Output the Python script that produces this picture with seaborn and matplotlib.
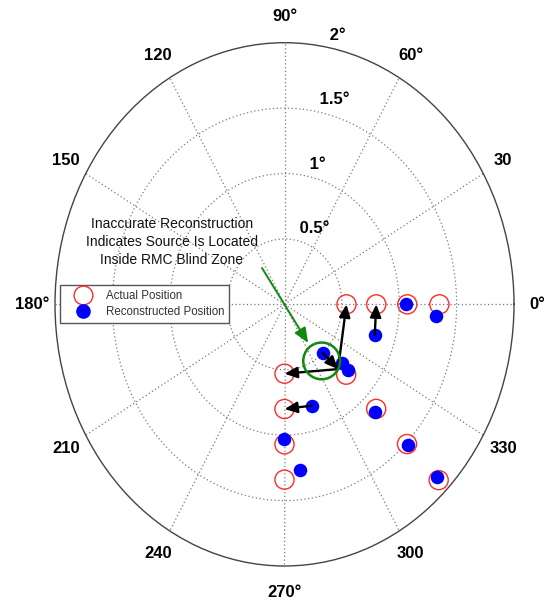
import numpy as np
import pandas as pd
import matplotlib
matplotlib.use("Agg")
import matplotlib.pyplot as plt
from matplotlib.lines import Line2D
import seaborn as sns

# Actual source positions (azimuth in degrees, off-axis angle in degrees)
actual_az = [0, 0, 0, 0, 315, 270, 270, 315, 270, 315, 270, 315]
actual_r = [0.54, 0.80, 1.07, 1.35, 0.76, 0.53, 0.80, 1.13, 1.07, 1.51, 1.34, 1.90]

# Reconstructed source positions
recon_az = [0.0, 356.2, 343.5, 312.0, 317.9, 317.9, 287.1, 313.9, 269.9, 276.1, 315.1, 315.2]
recon_r = [1.06, 1.32, 0.82, 0.50, 0.67, 0.75, 0.81, 1.14, 1.03, 1.27, 1.52, 1.87]

# Correction arrows: (start az, start r) -> (end az, end r)
arrow_from_az = [312.0, 313.3, 313.3, 343.5, 287.1]
arrow_from_r = [0.50, 0.68, 0.68, 0.82, 0.81]
arrow_to_az = [313.3, 0, 270, 0, 270]
arrow_to_r = [0.68, 0.54, 0.53, 0.80, 0.80]

# Blind-zone highlight
blind_az, blind_r = 306.8, 0.54
pointer_from = (125.2, 0.34)
pointer_to = (304.9, 0.36)

ring_values = [0.5, 1.0, 1.5, 2.0]
ring_labels = ["0.5°", "1°", "1.5°", "2°"]
spoke_angles = list(range(0, 360, 30))
spoke_labels = ["0°", "30", "60°", "90°", "120", "150", "180°",
                "210", "240", "270°", "300", "330"]

sns.set_theme(style="white")
plt.rcParams["font.family"] = ["Liberation Sans", "DejaVu Sans"]

fig = plt.figure(figsize=(5.49, 6.02), dpi=100)
ax = fig.add_axes([55 / 549, 36 / 602, 459 / 549, 523.3 / 602], projection="polar")
ax.set_aspect("auto")
ax.set_ylim(0, 2)
ax.set_rticks([0.5, 1.0, 1.5])
ax.set_yticklabels([])
ax.set_thetagrids(spoke_angles, labels=[""] * len(spoke_angles))
ax.grid(True, color="#7a7a7a", linestyle=(0, (1, 2)), linewidth=0.9)
ax.spines["polar"].set_color("#444444")
ax.spines["polar"].set_linewidth(1.0)
ax.tick_params(pad=0)

df_act = pd.DataFrame({"theta": np.deg2rad(actual_az), "r": actual_r})
df_rec = pd.DataFrame({"theta": np.deg2rad(recon_az), "r": recon_r})

sns.scatterplot(data=df_act, x="theta", y="r", ax=ax, color="red",
                facecolor="none", edgecolor="#ff2a2a", s=190, linewidth=1.0,
                zorder=3, legend=False)
sns.scatterplot(data=df_rec, x="theta", y="r", ax=ax, color="blue",
                edgecolor="blue", s=95, linewidth=0, zorder=4, legend=False)

for a0, r0, a1, r1 in zip(arrow_from_az, arrow_from_r, arrow_to_az, arrow_to_r):
    ax.annotate("", xy=(np.deg2rad(a1), r1), xytext=(np.deg2rad(a0), r0),
                arrowprops=dict(arrowstyle="-|>,head_length=0.5,head_width=0.22",
                                color="black", lw=1.7, mutation_scale=15,
                                shrinkA=0, shrinkB=0),
                zorder=5)

sns.scatterplot(x=[np.deg2rad(blind_az)], y=[blind_r], ax=ax, color="#118811",
                facecolor="none", edgecolor="#118811", s=700, linewidth=1.8,
                zorder=6, legend=False)
ax.annotate("", xy=(np.deg2rad(pointer_to[0]), pointer_to[1]),
            xytext=(np.deg2rad(pointer_from[0]), pointer_from[1]),
            arrowprops=dict(arrowstyle="-|>,head_length=0.6,head_width=0.25",
                            color="#118811", lw=1.4, mutation_scale=15,
                            shrinkA=0, shrinkB=0),
            zorder=6)

ax.set_xlabel("")
ax.set_ylabel("")

# Spoke labels around the rim
for ang, lab in zip(spoke_angles, spoke_labels):
    ax.text(np.deg2rad(ang), 2.2, lab, ha="center", va="center",
            fontsize=12, fontweight="bold", color="black", clip_on=False)

# Ring labels along the 80 degree direction
for val, lab in zip(ring_values, ring_labels):
    ax.text(np.deg2rad(80), val + 0.03, " " + lab, ha="left", va="bottom",
            fontsize=12, fontweight="bold", color="black", clip_on=False)

fig.text(171.7 / 549, 1 - 241.7 / 602,
         "Inaccurate Reconstruction\nIndicates Source Is Located\nInside RMC Blind Zone",
         ha="center", va="center", fontsize=10, linespacing=1.35, color="#111111")

handles = [
    Line2D([], [], linestyle="none", marker="o", markersize=13.5,
           markerfacecolor="none", markeredgecolor="#ff2a2a", markeredgewidth=1.0),
    Line2D([], [], linestyle="none", marker="o", markersize=9.5,
           markerfacecolor="blue", markeredgecolor="blue"),
]
leg = fig.legend(handles, ["Actual Position", "Reconstructed Position"],
                 loc="upper left", bbox_to_anchor=(60 / 549, 1 - 285 / 602),
                 bbox_transform=fig.transFigure, borderaxespad=0,
                 fontsize=8.3, frameon=True, fancybox=False, framealpha=1,
                 borderpad=0.4, handlelength=3.2, handletextpad=0.4,
                 labelspacing=0.4)
leg.get_frame().set_edgecolor("#555555")
leg.get_frame().set_linewidth(1.0)
for t in leg.get_texts():
    t.set_color("#333333")

fig.savefig("out.png", dpi=100)
